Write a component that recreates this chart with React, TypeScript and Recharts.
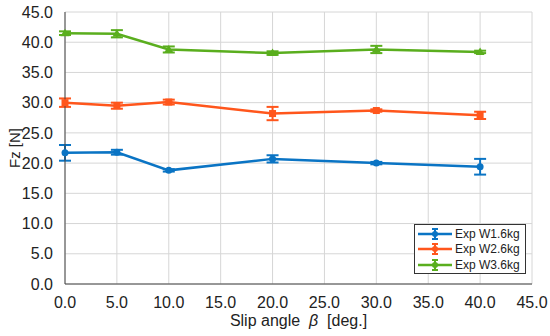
import React from 'react';
import {
  ComposedChart,
  Line,
  XAxis,
  YAxis,
  CartesianGrid,
  ErrorBar,
} from 'recharts';

const slipAngles = [0, 5, 10, 20, 30, 40];
const w1Values = [21.7, 21.8, 18.8, 20.7, 20.0, 19.4];
const w1Errors = [1.3, 0.4, 0.2, 0.6, 0.2, 1.3];
const w2Values = [30.0, 29.5, 30.1, 28.2, 28.7, 27.9];
const w2Errors = [0.7, 0.5, 0.4, 1.1, 0.2, 0.6];
const w3Values = [41.5, 41.4, 38.8, 38.2, 38.8, 38.4];
const w3Errors = [0.3, 0.6, 0.5, 0.3, 0.6, 0.2];
const axisTicks = [0, 5, 10, 15, 20, 25, 30, 35, 40, 45];
const seriesNames = ['Exp W1.6kg', 'Exp W2.6kg', 'Exp W3.6kg'];

const BLUE = '#0a74c4';
const ORANGE = '#ff561c';
const GREEN = '#5aae1e';
const colors = [BLUE, ORANGE, GREEN];

const rows = slipAngles.map((x, i) => ({
  x,
  w1: w1Values[i],
  w1e: w1Errors[i],
  w2: w2Values[i],
  w2e: w2Errors[i],
  w3: w3Values[i],
  w3e: w3Errors[i],
}));

const font = '"Liberation Sans", Arial, sans-serif';
const fmt = (v: number) => v.toFixed(1);

const CircleDot = ({ cx, cy }: any) => <circle cx={cx} cy={cy} r={3.5} fill={BLUE} />;
const SquareDot = ({ cx, cy }: any) => (
  <rect x={cx - 3.5} y={cy - 3.5} width={7} height={7} fill={ORANGE} />
);
const TriangleDot = ({ cx, cy }: any) => (
  <polygon points={`${cx},${cy - 4.5} ${cx - 4.5},${cy + 3} ${cx + 4.5},${cy + 3}`} fill={GREEN} />
);

// x axis title with italic beta
const XTitle = ({ viewBox }: any) => {
  const cx = viewBox.x + viewBox.width / 2;
  return (
    <text x={cx} y={326} textAnchor="middle" fill="#222" fontSize={16} fontFamily={font}>
      <tspan>{'Slip angle\u00A0\u00A0'}</tspan>
      <tspan fontStyle="italic">β</tspan>
      <tspan>{'\u00A0\u00A0[deg.]'}</tspan>
    </text>
  );
};

// legend drawn like the MATLAB one: line with an error bar marker
const LegendBox = () => (
  <div
    style={{
      position: 'absolute',
      left: 414,
      top: 224,
      width: 107,
      height: 47,
      border: '1px solid #333',
      background: '#fff',
      padding: '1px 0 0 3px',
      fontFamily: font,
      fontSize: 12,
      color: '#222',
      whiteSpace: 'nowrap',
    }}
  >
    {seriesNames.map((name, i) => (
      <div key={name} style={{ display: 'flex', alignItems: 'center', height: 15.5 }}>
        <svg width={34} height={14} style={{ marginRight: 3 }}>
          <line x1={0} y1={7} x2={34} y2={7} stroke={colors[i]} strokeWidth={2.5} />
          <line x1={17} y1={2} x2={17} y2={12} stroke={colors[i]} strokeWidth={2} />
          <line x1={14} y1={2} x2={20} y2={2} stroke={colors[i]} strokeWidth={2} />
          <line x1={14} y1={12} x2={20} y2={12} stroke={colors[i]} strokeWidth={2} />
          <circle cx={17} cy={7} r={3} fill={colors[i]} />
        </svg>
        <span>{name}</span>
      </div>
    ))}
  </div>
);

export default function App() {
  return (
    <div style={{ position: 'absolute', left: 0, top: 0, width: 550, height: 336, background: '#fff' }}>
      <ComposedChart
        width={550}
        height={336}
        data={rows}
        margin={{ top: 12, right: 18, left: 5, bottom: 22 }}
      >
        <CartesianGrid stroke="#d6d6d6" strokeWidth={1} />
        <XAxis
          dataKey="x"
          type="number"
          domain={[0, 45]}
          ticks={axisTicks}
          tickFormatter={fmt}
          tickLine={false}
          axisLine={{ stroke: '#444' }}
          tick={{ fill: '#222', fontSize: 16, fontFamily: font }}
          tickMargin={7}
          height={30}
          label={<XTitle />}
        />
        <XAxis
          xAxisId="top"
          dataKey="x"
          type="number"
          orientation="top"
          domain={[0, 45]}
          ticks={axisTicks}
          tickFormatter={() => ''}
          mirror
          tickSize={4}
          height={0}
          stroke="#444"
        />
        <YAxis
          type="number"
          domain={[0, 45]}
          ticks={axisTicks}
          tickFormatter={fmt}
          tickLine={false}
          axisLine={{ stroke: '#444' }}
          tick={{ fill: '#222', fontSize: 16, fontFamily: font }}
          tickMargin={6}
          width={60}
          label={{
            value: 'Fz [N]',
            angle: -90,
            position: 'insideLeft',
            offset: 10,
            fill: '#222',
            fontSize: 15,
            fontFamily: font,
            style: { textAnchor: 'middle' },
          }}
        />
        <YAxis
          yAxisId="right"
          orientation="right"
          type="number"
          domain={[0, 45]}
          ticks={axisTicks}
          tickFormatter={() => ''}
          mirror
          tickSize={4}
          width={0}
          stroke="#444"
        />
        <Line
          dataKey="w1"
          stroke={BLUE}
          strokeWidth={2.5}
          dot={<CircleDot />}
          activeDot={false}
          isAnimationActive={false}
        >
          <ErrorBar dataKey="w1e" width={6} stroke={BLUE} strokeWidth={2} isAnimationActive={false} />
        </Line>
        <Line
          dataKey="w2"
          stroke={ORANGE}
          strokeWidth={2.5}
          dot={<SquareDot />}
          activeDot={false}
          isAnimationActive={false}
        >
          <ErrorBar dataKey="w2e" width={6} stroke={ORANGE} strokeWidth={2} isAnimationActive={false} />
        </Line>
        <Line
          dataKey="w3"
          stroke={GREEN}
          strokeWidth={2.5}
          dot={<TriangleDot />}
          activeDot={false}
          isAnimationActive={false}
        >
          <ErrorBar dataKey="w3e" width={6} stroke={GREEN} strokeWidth={2} isAnimationActive={false} />
        </Line>
      </ComposedChart>
      <LegendBox />
    </div>
  );
}
